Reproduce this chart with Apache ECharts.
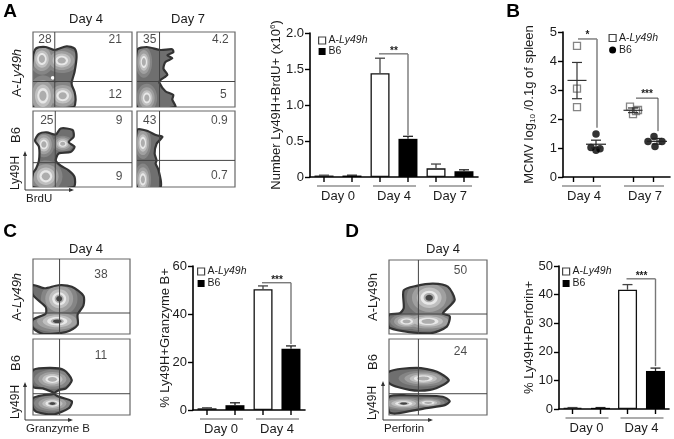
<!DOCTYPE html>
<html><head><meta charset="utf-8">
<style>html,body{margin:0;padding:0;background:#fff}#c{width:674px;height:439px}</style>
<script src="https://cdn.jsdelivr.net/npm/echarts@6/dist/echarts.min.js"></script>
</head><body><div id="c"></div>
<script>
// ---- bar panels
const barDaysA=['Day 0','Day 4','Day 7'];
const aValA=[0.02,1.44,0.12], aErrA=[0.025,1.65,0.18];
const b6ValA=[0.02,0.53,0.08], b6ErrA=[0.025,0.565,0.1];
const barDaysC=['Day 0','Day 4'];
const aValC=[0.7,50.3], aErrC=[0.9,51.7];
const b6ValC=[2,25.5], b6ErrC=[3,26.7];
const barDaysD=['Day 0','Day 4'];
const aValD=[0.4,41.7], aErrD=[0.5,43.5];
const b6ValD=[0.4,13.3], b6ErrD=[0.5,14.3];
// ---- scatter panel
const aPoints=[[0.7,4.52],[0.7,3.05],[0.7,2.41],[3.35,2.43],[3.75,2.31],[3.5,2.17],[3.65,2.27]];
const b6Points=[[1.65,1.48],[1.4,1.02],[1.85,0.97],[1.65,0.92],[4.55,1.4],[4.25,1.22],[4.95,1.22],[4.6,1.05]];
const aSummary=[[0.7,3.33,2.7,3.95],[3.5,2.3,2.22,2.38]];
const b6Summary=[[1.65,1.13,1.0,1.27],[4.7,1.23,1.13,1.33]];
// ---- flow plots: outlines, peaks [cx,cy,rx,ry,core], gates, quadrant numbers
const flow1={outlines:[[[0,0],[0,67],[3,78],[13,80],[22,76],[34,81],[42,78],[44,67],[42,47],[39,31],[42,20],[43,9],[41,0]]],peaks:[[9,64,6,10],[29,62,8,8],[10,15,7,13],[30,15,8,9]],holes:[[20,39,2,2.5]],gate:[22,34],nums:[[12,90,'28'],[83,90,'21'],[83,17,'12']]};
const flow2={outlines:[[[0,0],[0,76],[10,80],[24,76],[36,77],[37,73],[31,69],[36,65],[29,60],[27,51],[31,43],[24,36],[23,32],[29,21],[37,16],[36,10],[39,0]]],peaks:[[7,60,4,10],[10,12,5,9]],holes:[],gate:[23,34],nums:[[13,90,'35'],[85,90,'4.2'],[88,16,'5']]};
const flow3={outlines:[[[0,0],[0,18],[3,24],[6,35],[6,53],[2,61],[6,70],[14,72],[23,69],[28,77],[40,75],[41,66],[36,59],[42,53],[38,46],[26,44],[23,35],[28,28],[36,22],[42,13],[41,0]]],peaks:[[11,56,5,8],[30,57,5,5],[13,14,8,10]],holes:[],gate:[22.5,32],nums:[[14,87,'25'],[87,87,'9'],[87,13,'9']]};
const flow4={outlines:[[[0,0],[0,75],[10,74],[20,68],[26,66],[20,57],[18,44],[20,35],[19,31],[22,22],[24,0]]],peaks:[[6,58,4,10],[6,10,4,10]],holes:[],gate:[23,35],nums:[[13,87,'43'],[84,87,'0.9'],[84,15,'0.7']]};
const flow5={outlines:[[[0,8],[11,0],[35,3],[46,12],[46,26],[52,38],[52,51],[40,63],[26,65],[12,61],[0,65],[0,52],[13,36],[13,27],[0,19]]],peaks:[[27,47,9,11,1],[25,17,13,7,1]],holes:[],gate:[27.4,28],nums:[[70,79,'38']]};
const flow6={outlines:[[[0,59],[18,62],[32,59],[40,46],[34,35],[27,33],[22,28],[27,24],[40,18],[37,9],[22,1],[4,4],[0,9],[0,22],[10,26],[22,28],[10,35],[0,37]]],peaks:[[20,47,9,6],[20,15,9,5,1]],holes:[],gate:[27.4,28],nums:[[70,78,'11']]};
const flow7={outlines:[[[0,26],[11,28],[15,35],[15,59],[28,65],[45,68],[60,64],[67,46],[55,28],[62,24],[59,10],[42,1],[1,8]]],peaks:[[41,49,11,12,1],[40,17,13,6],[18,17,8,5]],holes:[],gate:[30,27],nums:[[73,85,'50']]};
const flow8={outlines:[[[0,57],[28,62],[49,57],[61,46],[56,40],[42,33],[21,33],[0,42]],[[0,24],[18,26],[55,24],[62,18],[57,13],[38,9],[7,2],[0,4]]],peaks:[[35,48,12,5],[15,15,11,4,1],[40,16,8,3]],holes:[],gate:[30,28],nums:[[73,83,'24']]};

const FONT='"Liberation Sans",Arial,sans-serif', INK='#1c1c1c';
const grids=[],xAxes=[],yAxes=[],series=[],legends=[];
const ringLevels=[[2.1,'#858585'],[1.6,'#a0a0a0'],[1.15,'#c0c0c0'],[0.8,'#e8e8e8'],[0.52,'#adadad']];

function addFlow(plot,box){
  const g=grids.length;
  grids.push({left:box[0],top:box[1],width:box[2],height:box[3],show:true,backgroundColor:'#fff',borderColor:'#666',borderWidth:1.2,containLabel:false});
  xAxes.push({type:'value',gridIndex:g,min:0,max:100,show:false});
  yAxes.push({type:'value',gridIndex:g,min:0,max:100,show:false});
  series.push({type:'custom',xAxisIndex:g,yAxisIndex:g,data:[[0,0]],silent:true,clip:true,z:2,
    renderItem(p,api){
      const ch=[];
      plot.outlines.forEach(o=>{
        const pts=o.map(q=>api.coord(q)),inner=[];
        const ell=(x,y,rx,ry,fill)=>{const c=api.coord([x,y]),e=api.coord([x+rx,y+ry]);
          inner.push({type:'ellipse',shape:{cx:c[0],cy:c[1],rx:Math.abs(e[0]-c[0]),ry:Math.abs(e[1]-c[1])},style:{fill}})};
        ringLevels.forEach(r=>plot.peaks.forEach(k=>ell(k[0],k[1],k[2]*r[0],k[3]*r[0],r[1])));
        plot.peaks.forEach(k=>{if(k[4])ell(k[0],k[1],k[2]*0.34,k[3]*0.34,'#454545');});
        ch.push({type:'polygon',shape:{points:pts,smooth:0.25},style:{fill:'#6f6f6f'}});
        ch.push({type:'group',children:inner,clipPath:{type:'polygon',shape:{points:pts,smooth:0.25}}});
        ch.push({type:'polygon',shape:{points:pts,smooth:0.25},style:{fill:'none',stroke:'#333',lineWidth:2.2}});
      });
      plot.holes.forEach(h=>{const c=api.coord([h[0],h[1]]),e=api.coord([h[0]+h[2],h[1]+h[3]]);
        ch.push({type:'ellipse',shape:{cx:c[0],cy:c[1],rx:e[0]-c[0],ry:c[1]-e[1]},style:{fill:'#fff'}})});
      const a=api.coord([plot.gate[0],0]),b=api.coord([plot.gate[0],100]),c=api.coord([0,plot.gate[1]]),d=api.coord([100,plot.gate[1]]);
      ch.push({type:'line',shape:{x1:a[0],y1:a[1],x2:b[0],y2:b[1]},style:{stroke:'#444',lineWidth:1}});
      ch.push({type:'line',shape:{x1:c[0],y1:c[1],x2:d[0],y2:d[1]},style:{stroke:'#444',lineWidth:1}});
      return {type:'group',children:ch};
    }});
  series.push({type:'scatter',xAxisIndex:g,yAxisIndex:g,symbolSize:0,silent:true,z:5,data:plot.nums,
    label:{show:true,position:'inside',formatter:p=>p.value[2],fontFamily:FONT,fontSize:12,color:INK}});
}

function legendFor(box,icons,gap){
  legends.push({orient:'vertical',left:box[0],top:box[1],padding:0,itemGap:gap,itemWidth:7,itemHeight:7,selectedMode:false,
    data:[{name:'A-Ly49h',icon:icons[0],itemStyle:{color:'#fff',borderColor:'#444',borderWidth:1.2}},
          {name:'B6',icon:icons[1],itemStyle:{color:'#000',borderWidth:0}}],
    formatter:n=>n==='B6'?'{r|B6}':'{r|A-}{i|Ly49h}',
    textStyle:{padding:[0,0,0,-2],rich:{r:{fontFamily:FONT,fontSize:10.5,color:INK},i:{fontFamily:FONT,fontSize:10.5,fontStyle:'italic',color:INK}}}});
}

function addBars(o){
  const g=grids.length;
  grids.push({left:o.box[0],top:o.box[1],width:o.box[2],height:o.box[3],containLabel:false});
  xAxes.push({type:'category',gridIndex:g,data:o.cats,axisTick:{show:false},
    axisLine:{lineStyle:{color:'#000',width:1.6}},
    axisLabel:{margin:13,fontFamily:FONT,fontSize:13,color:INK}});
  yAxes.push({type:'value',gridIndex:g,min:0,max:o.max,interval:o.step,splitLine:{show:false},
    name:o.name,nameLocation:'middle',nameGap:o.nameGap,nameRotate:90,nameMoveOverlap:false,
    nameTextStyle:{fontFamily:FONT,fontSize:13,color:INK,rich:{r:{fontFamily:FONT,fontSize:13,color:INK},s:{fontFamily:FONT,fontSize:8,color:INK,verticalAlign:'top',lineHeight:15}}},
    axisLine:{show:true,lineStyle:{color:'#000',width:1.6}},axisTick:{show:true,length:5,lineStyle:{color:'#000',width:1.4}},
    axisLabel:{margin:6,fontFamily:FONT,fontSize:13,color:INK,formatter:o.fmt}});
  const barBase={type:'bar',xAxisIndex:g,yAxisIndex:g,barWidth:19,barGap:'47%',silent:true};
  series.push({...barBase,name:'A-Ly49h',data:o.a,itemStyle:{color:'#fff',borderColor:'#111',borderWidth:1.3}});
  series.push({...barBase,name:'B6',data:o.b,itemStyle:{color:'#000',borderColor:'#000',borderWidth:0}});
  series.push({type:'custom',xAxisIndex:g,yAxisIndex:g,clip:false,silent:true,z:3,data:o.cats.map((c,i)=>[i,0]),
    renderItem(p,api){
      const i=api.value(0),base=api.coord([i,0]),ch=[];
      [[-14,o.a[i],o.aE[i],'#444'],[14,o.b[i],o.bE[i],'#222']].forEach(s=>{
        const x=base[0]+s[0],y0=api.coord([i,s[1]])[1],y1=api.coord([i,s[2]])[1];
        ch.push({type:'line',shape:{x1:x,y1:y0,x2:x,y2:y1},style:{stroke:s[3],lineWidth:1.3}});
        ch.push({type:'line',shape:{x1:x-5,y1:y1,x2:x+5,y2:y1},style:{stroke:s[3],lineWidth:1.3}});
        ch.push({type:'line',shape:{x1:x,y1:base[1],x2:x,y2:base[1]+5},style:{stroke:'#000',lineWidth:1.4}});
      });
      ch.push({type:'line',shape:{x1:base[0]-21,y1:base[1]+9,x2:base[0]+22,y2:base[1]+9},style:{stroke:'#909090',lineWidth:1.5}});
      return {type:'group',children:ch};
    }});
  series.push({type:'custom',xAxisIndex:g,yAxisIndex:g,clip:false,silent:true,z:4,data:[o.bracket],
    renderItem(p,api){
      const i=api.value(0),c=api.coord([i,0])[0],t=api.coord([i,api.value(1)])[1],d=api.coord([i,api.value(2)])[1];
      return {type:'group',children:[
        {type:'line',shape:{x1:c-15,y1:t,x2:c+14,y2:t},style:{stroke:'#444',lineWidth:1}},
        {type:'line',shape:{x1:c+14,y1:t,x2:c+14,y2:d},style:{stroke:'#777',lineWidth:1.4}},
        {type:'text',style:{x:c,y:t-3,text:o.stars,fontFamily:FONT,fontSize:10,fontWeight:'bold',fill:INK,align:'center',verticalAlign:'middle'}}
      ]};
    }});
}

// ---- flow plots
addFlow(flow1,[33,32,99,75]);
addFlow(flow2,[137,32,98,75]);
addFlow(flow3,[33,111,99,76]);
addFlow(flow4,[137,111,98,76]);
addFlow(flow5,[33,259,97,75]);
addFlow(flow6,[33,339,97,76]);
addFlow(flow7,[389,260,98,74]);
addFlow(flow8,[389,339,98,76]);

// ---- bars
const oneDec=v=>v===0?'0':v.toFixed(1);
addBars({box:[310,33,168,144],cats:barDaysA,a:aValA,b:b6ValA,aE:aErrA,bE:b6ErrA,max:2,step:0.5,fmt:oneDec,
  name:'{r|Number Ly49H+BrdU+ (x10}{s|6}{r|)}',nameGap:26,bracket:[1,1.71,0.58],stars:'**'});
addBars({box:[193,266,112,144],cats:barDaysC,a:aValC,b:b6ValC,aE:aErrC,bE:b6ErrC,max:60,step:20,
  name:'% Ly49H+Granzyme B+',nameGap:21,bracket:[1,53,27.5],stars:'***'});
addBars({box:[559,266,110,143],cats:barDaysD,a:aValD,b:b6ValD,aE:aErrD,bE:b6ErrD,max:50,step:10,
  name:'% Ly49H+Perforin+',nameGap:23,bracket:[1,45.5,15],stars:'***'});
legendFor([318,35],['rect','rect'],0);
legendFor([197,266],['rect','rect'],1);
legendFor([562,266],['rect','rect'],1);

// ---- scatter panel B
(function(){
  const g=grids.length;
  grids.push({left:563,top:32,width:107,height:145});
  const lab={1.05:'Day 4',4.1:'Day 7'};
  xAxes.push({type:'value',gridIndex:g,min:0,max:5.35,splitLine:{show:false},
    axisLine:{lineStyle:{color:'#000',width:1.6}},
    axisTick:{show:true,length:5,customValues:[0.5,1.5,3.5,4.5],lineStyle:{color:'#000',width:1.4}},
    axisLabel:{margin:13,customValues:[1.05,4.1],formatter:v=>lab[v],fontFamily:FONT,fontSize:13,color:INK}});
  yAxes.push({type:'value',gridIndex:g,min:0,max:5,interval:1,splitLine:{show:false},
    name:'{r|MCMV log}{s|10}{r| /0.1g of spleen}',nameLocation:'middle',nameGap:26,nameRotate:90,nameMoveOverlap:false,
    nameTextStyle:{rich:{r:{fontFamily:FONT,fontSize:13,color:INK},s:{fontFamily:FONT,fontSize:8,color:INK,verticalAlign:'bottom',lineHeight:15}}},
    axisLine:{show:true,lineStyle:{color:'#000',width:1.6}},axisTick:{show:true,length:5,lineStyle:{color:'#000',width:1.4}},
    axisLabel:{margin:6,fontFamily:FONT,fontSize:13,color:INK}});
  series.push({type:'scatter',name:'A-Ly49h',xAxisIndex:g,yAxisIndex:g,data:aPoints,symbol:'rect',symbolSize:7,silent:true,z:3,
    itemStyle:{color:'rgba(255,255,255,0)',borderColor:'#666',borderWidth:1.3}});
  series.push({type:'scatter',name:'B6',xAxisIndex:g,yAxisIndex:g,data:b6Points,symbol:'circle',symbolSize:7.5,silent:true,z:3,itemStyle:{color:'#000'}});
  [[aSummary,9.5,'#333'],[b6Summary,10,'#222']].forEach(cfg=>{
    series.push({type:'custom',xAxisIndex:g,yAxisIndex:g,clip:false,silent:true,z:4,data:cfg[0],
      renderItem(p,api){
        const x=api.value(0),m=api.coord([x,api.value(1)]),lo=api.coord([x,api.value(2)]),hi=api.coord([x,api.value(3)]),w=cfg[1],st={stroke:cfg[2],lineWidth:1.2};
        return {type:'group',children:[
          {type:'line',shape:{x1:m[0]-w,y1:m[1],x2:m[0]+w,y2:m[1]},style:st},
          {type:'line',shape:{x1:m[0],y1:lo[1],x2:m[0],y2:hi[1]},style:st},
          {type:'line',shape:{x1:m[0]-5,y1:lo[1],x2:m[0]+5,y2:lo[1]},style:st},
          {type:'line',shape:{x1:m[0]-5,y1:hi[1],x2:m[0]+5,y2:hi[1]},style:st}]};
      }});
  });
  series.push({type:'custom',xAxisIndex:g,yAxisIndex:g,clip:false,silent:true,z:4,data:[[0,1]],
    renderItem(p,api){
      const ch=[];
      [[-0.05,1.9],[3.05,5.05]].forEach(r=>{const a=api.coord([r[0],0]),b=api.coord([r[1],0]);
        ch.push({type:'line',shape:{x1:a[0],y1:a[1]+9,x2:b[0],y2:b[1]+9},style:{stroke:'#909090',lineWidth:1.5}});});
      [[0.75,1.7,4.76,1.7,'*','#888',1.6],[3.65,4.75,2.72,1.58,'***','#444',1]].forEach(r=>{
        const a=api.coord([r[0],r[2]]),b=api.coord([r[1],r[2]]),d=api.coord([r[1],r[3]]);
        ch.push({type:'line',shape:{x1:a[0],y1:a[1],x2:b[0],y2:b[1]},style:{stroke:r[5],lineWidth:r[6]}});
        ch.push({type:'line',shape:{x1:b[0],y1:b[1],x2:d[0],y2:d[1]},style:{stroke:r[5],lineWidth:r[6]}});
        ch.push({type:'text',style:{x:(a[0]+b[0])/2,y:a[1]-4,text:r[4],fontFamily:FONT,fontSize:10,fontWeight:'bold',fill:INK,align:'center',verticalAlign:'middle'}});
      });
      return {type:'group',children:ch};
    }});
})();
legendFor([608.5,32.5],['rect','circle'],1);

// ---- free text and arrows
const texts=[['A',10,12,19,'b'],['B',513,12,19,'b'],['C',10,232,19,'b'],['D',352,232,19,'b'],
  ['Day 4',86,19,13],['Day 7',188,19,13],['Day 4',86,249,13],['Day 4',443,249,13]];
const graphic=[];
texts.forEach(t=>graphic.push({type:'text',x:t[1],y:t[2],silent:true,style:{text:t[0],fontFamily:FONT,fontSize:t[3],fontWeight:t[4]?'bold':'normal',fill:t[4]?'#000':INK,align:'center',verticalAlign:'middle'}}));
const rot=[[['A-',0],['Ly49h',1]],[['B6',0]],[['Ly49H',0]]];
function vtext(parts,x,y,size){
  graphic.push({type:'text',x,y,rotation:Math.PI/2,silent:true,style:{
    text:parts.map(p=>'{'+(p[1]?'i':'r')+'|'+p[0]+'}').join(''),align:'center',verticalAlign:'middle',
    rich:{r:{fontFamily:FONT,fontSize:size,fill:INK},i:{fontFamily:FONT,fontSize:size,fontStyle:'italic',fill:INK}}}});
}
vtext(rot[0],17,73,13);vtext(rot[1],16,135,13);vtext(rot[2],16,173,12);
vtext(rot[0],17,297,13);vtext(rot[1],16,363,13);vtext(rot[2],16,402,12);
vtext([['A-Ly49h',0]],373,297,13);vtext(rot[1],373,362,13);vtext(rot[2],373,403,12);
function arrows(x,yTop,yBot,xEnd,label){
  const st={stroke:'#333',lineWidth:1},f='#333';
  graphic.push({type:'line',silent:true,shape:{x1:x,y1:yBot,x2:x,y2:yTop},style:st});
  graphic.push({type:'line',silent:true,shape:{x1:x,y1:yBot,x2:xEnd,y2:yBot},style:st});
  graphic.push({type:'polygon',silent:true,shape:{points:[[x,yTop-2],[x-2,yTop+3],[x+2,yTop+3]]},style:{fill:f}});
  graphic.push({type:'polygon',silent:true,shape:{points:[[xEnd+2,yBot],[xEnd-3,yBot-2],[xEnd-3,yBot+2]]},style:{fill:f}});
  graphic.push({type:'text',silent:true,x:x+1,y:yBot+9,style:{text:label,fontFamily:FONT,fontSize:11.5,fill:INK,align:'left',verticalAlign:'middle'}});
}
arrows(25,153,190,72,'BrdU');
arrows(25,384,420,71,'Granzyme B');
arrows(383,383,420,431,'Perforin');

const chart=echarts.init(document.getElementById('c'),null,{renderer:'canvas'});
chart.setOption({animation:false,backgroundColor:'#fff',textStyle:{fontFamily:FONT},grid:grids,xAxis:xAxes,yAxis:yAxes,series,legend:legends,graphic:{elements:graphic}});
</script></body></html>
